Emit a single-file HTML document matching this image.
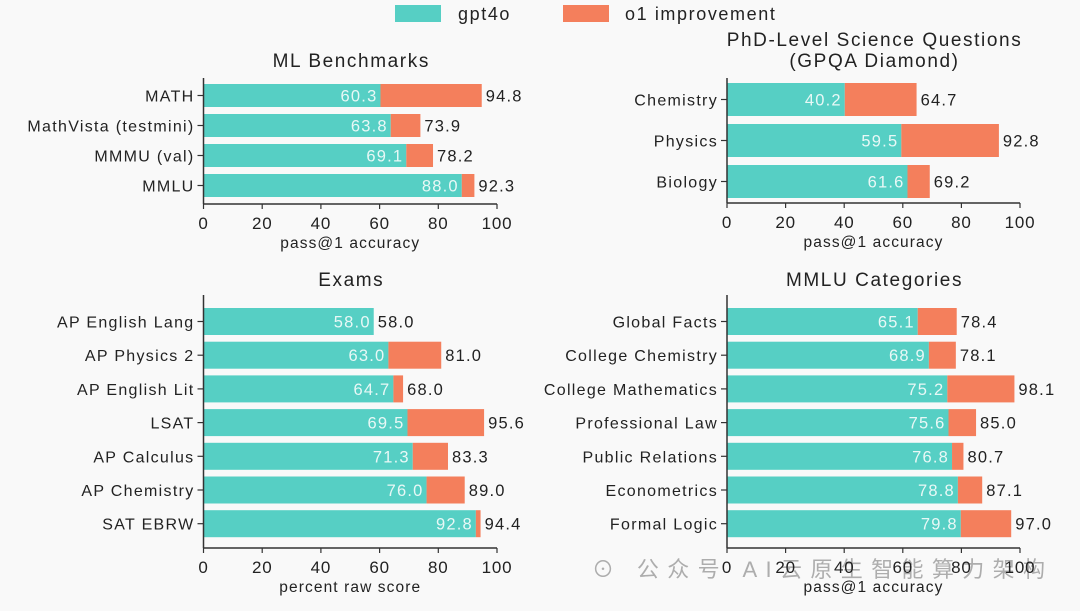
<!DOCTYPE html>
<html><head><meta charset="utf-8">
<style>
body{margin:0;background:#f9f9f9;}
svg{display:block;font-family:"Liberation Sans","Noto Sans CJK SC",sans-serif;}
</style></head>
<body>
<svg id="c" width="1080" height="611" viewBox="0 0 1080 611">
<rect width="1080" height="611" fill="#f9f9f9"/>
<g>
<rect x="395" y="5" width="46" height="17" fill="#56cfc4"/>
<text x="458" y="20" font-size="18" letter-spacing="1.6" fill="#222">gpt4o</text>
<rect x="563" y="5" width="46" height="17" fill="#f47f5c"/>
<text x="625" y="20" font-size="18" letter-spacing="1.6" fill="#222">o1 improvement</text>
</g>
<text x="592" y="577" font-size="22" fill="#9a9a9a" fill-opacity="0.8" textLength="453" lengthAdjust="spacing">⊙ 公众号  AI云原生智能算力架构</text>
</svg>
<script>
const mlCats=["MATH","MathVista (testmini)","MMMU (val)","MMLU"];
const mlBase=[60.3,63.8,69.1,88.0];
const mlO1=[94.8,73.9,78.2,92.3];
const phdCats=["Chemistry","Physics","Biology"];
const phdBase=[40.2,59.5,61.6];
const phdO1=[64.7,92.8,69.2];
const exCats=["AP English Lang","AP Physics 2","AP English Lit","LSAT","AP Calculus","AP Chemistry","SAT EBRW"];
const exBase=[58.0,63.0,64.7,69.5,71.3,76.0,92.8];
const exO1=[58.0,81.0,68.0,95.6,83.3,89.0,94.4];
const mmCats=["Global Facts","College Chemistry","College Mathematics","Professional Law","Public Relations","Econometrics","Formal Logic"];
const mmBase=[65.1,68.9,75.2,75.6,76.8,78.8,79.8];
const mmO1=[78.4,78.1,98.1,85.0,80.7,87.1,97.0];
const ticks=[0,20,40,60,80,100];

const svg=document.getElementById('c');
const NS="http://www.w3.org/2000/svg";
function mk(tag,attrs,parent){const e=document.createElementNS(NS,tag);for(const k in attrs)e.setAttribute(k,attrs[k]);parent.appendChild(e);return e;}

function panel(id,titleLines,titleY,xlab,cats,base,o1,x0,x1,spineTop,firstTop,pitch,bh,axisY){
  const g=mk('g',{},svg);
  
  
  const xs=v=>x0+(x1-x0)*v/100;
  titleLines.forEach((t,i)=>{
    const tt=mk('text',{x:(x0+x1)/2+1,y:titleY+i*21,'font-size':19,'letter-spacing':1.6,'text-anchor':'middle',fill:'#222'},g);
    tt.textContent=t;
    
    
  });
  cats.forEach((c,i)=>{
    const top=firstTop+i*pitch, cy=top+bh/2;
    const b=mk('rect',{x:xs(0),y:top,width:xs(base[i])-xs(0),height:bh,fill:'#56cfc4'},g);
    
    
    const imp=o1[i]-base[i];
    if(imp>0){
      const r=mk('rect',{x:xs(base[i]),y:top,width:xs(o1[i])-xs(base[i]),height:bh,fill:'#f47f5c'},g);
      
      
    }
    const vi=mk('text',{x:xs(base[i])-3,y:cy+6,'font-size':16.5,'letter-spacing':1.2,'text-anchor':'end',fill:'#e8f8f6'},g);
    vi.textContent=base[i].toFixed(1);
    
    
    const vo=mk('text',{x:xs(o1[i])+4,y:cy+6,'font-size':16.5,'letter-spacing':1.2,fill:'#222'},g);
    vo.textContent=o1[i].toFixed(1);
    
    
    mk('line',{x1:x0-6,x2:x0,y1:cy,y2:cy,stroke:'#333','stroke-width':1.2},g);
    const cl=mk('text',{x:x0-9,y:cy+6,'font-size':16,'letter-spacing':1.3,'text-anchor':'end',fill:'#222'},g);
    cl.textContent=c;
    
    
  });
  mk('line',{x1:x0,x2:x0,y1:spineTop,y2:axisY,stroke:'#333','stroke-width':1.5},g);
  mk('line',{x1:x0,x2:x1,y1:axisY,y2:axisY,stroke:'#333','stroke-width':1.5},g);
  ticks.forEach(t=>{
    mk('line',{x1:xs(t),x2:xs(t),y1:axisY,y2:axisY+5,stroke:'#333','stroke-width':1.2},g);
    const tl=mk('text',{x:xs(t),y:axisY+25,'font-size':17,'letter-spacing':0.8,'text-anchor':'middle',fill:'#222'},g);
    tl.textContent=t;
    
    
  });
  const xl=mk('text',{x:(x0+x1)/2,y:axisY+44,'font-size':15.5,'letter-spacing':1.1,'text-anchor':'middle',fill:'#222'},g);
  xl.textContent=xlab;
  
  
}
panel('ml-benchmarks',['ML Benchmarks'],67,'pass@1 accuracy',mlCats,mlBase,mlO1,203.5,497,78,84,30,23,204);
panel('phd-science',['PhD-Level Science Questions','(GPQA Diamond)'],46,'pass@1 accuracy',phdCats,phdBase,phdO1,727,1020,78,83,41,33,203);
panel('exams',['Exams'],286,'percent raw score',exCats,exBase,exO1,203.5,497,295,308,33.7,27,548);
panel('mmlu-categories',['MMLU Categories'],286,'pass@1 accuracy',mmCats,mmBase,mmO1,727,1020,295,308,33.7,27,548);
</script>
</body></html>
